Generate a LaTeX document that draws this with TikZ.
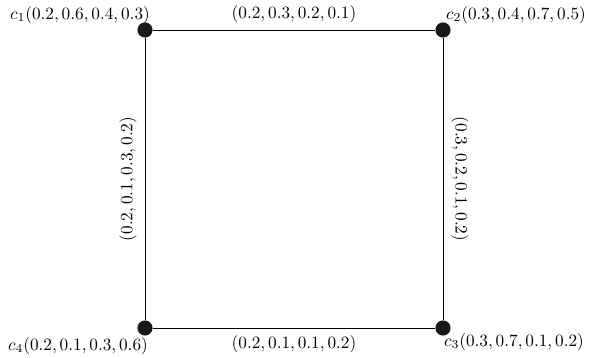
\documentclass[tikz,border=0pt]{standalone}
\begin{document}
\begin{tikzpicture}[x=0.58pt, y=0.58pt,
  vtx/.style={circle, fill=black!90, inner sep=0pt, minimum size=8.8pt},
  side/.style={line width=0.5pt},
  vlbl/.style={inner sep=0pt}]
\useasboundingbox (0,0) rectangle (590,358);
\node[vtx] (c1) at (145,328) {};
\node[vtx] (c2) at (443,328) {};
\node[vtx] (c3) at (443,30)  {};
\node[vtx] (c4) at (145,30)  {};
\node[vlbl] (l1) at (80,343)  {$c_1(0.2, 0.6, 0.4, 0.3)$};
\node[vlbl] (l2) at (516,343) {$c_2(0.3, 0.4, 0.7, 0.5)$};
\node[vlbl] (l3) at (514,16)  {$c_3(0.3, 0.7, 0.1, 0.2)$};
\node[vlbl] (l4) at (78,12)   {$c_4(0.2, 0.1, 0.3, 0.6)$};
\draw[side] (c1) -- (c2) node[midway, above=0.8pt] {$(0.2, 0.3, 0.2, 0.1)$};
\draw[side] (c2) -- (c3) node[midway, above=1.2pt, sloped] {$(0.3, 0.2, 0.1, 0.2)$};
\draw[side] (c4) -- (c3) node[midway, below=0.8pt] {$(0.2, 0.1, 0.1, 0.2)$};
\draw[side] (c4) -- (c1) node[midway, above=1.2pt, sloped] {$(0.2, 0.1, 0.3, 0.2)$};
\end{tikzpicture}
\end{document}
